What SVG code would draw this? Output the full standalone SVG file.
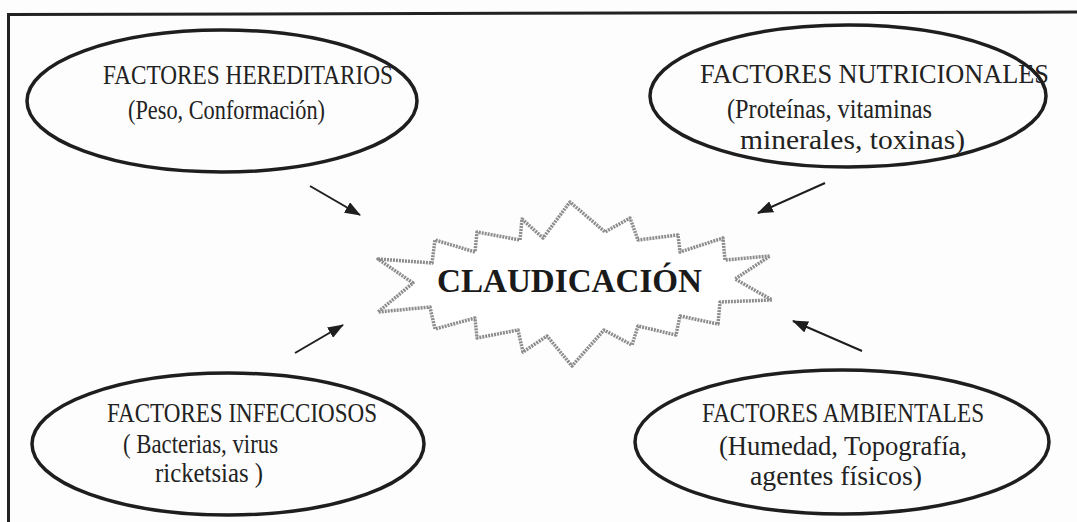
<svg xmlns="http://www.w3.org/2000/svg" width="1077" height="522" viewBox="0 0 1077 522">
<defs>
<style>
.ell{fill:none;stroke:#1e1e1e;stroke-width:3.5}
.t{font-family:"Liberation Serif","Times New Roman",serif;font-size:28px;fill:#222}
.tb{font-family:"Liberation Serif","Times New Roman",serif;font-size:33px;font-weight:bold;fill:#1a1a1a}
.conn{stroke:#1e1e1e;stroke-width:2;fill:none}
.star{fill:#fff;stroke:#8c8c8c;stroke-width:3.5;stroke-linejoin:round;stroke-dasharray:2 1}
</style>
<marker id="ah" viewBox="0 0 16 12" refX="15" refY="6" markerWidth="16" markerHeight="12" markerUnits="userSpaceOnUse" orient="auto">
<path d="M0,0 L16,6 L0,12 Z" fill="#1e1e1e"/>
</marker>
</defs>
<rect x="0" y="0" width="1077" height="522" fill="#fdfdfd"/>
<g id="frame" fill="none" stroke="#222" stroke-width="3">
<line x1="8" y1="14.5" x2="1077" y2="12"/>
<line x1="8.5" y1="13" x2="8.5" y2="522"/>
</g>
<g id="connectors">
<line class="conn" x1="310" y1="186" x2="360" y2="215" marker-end="url(#ah)"/>
<line class="conn" x1="825" y1="183" x2="758" y2="213" marker-end="url(#ah)"/>
<line class="conn" x1="295" y1="353" x2="343" y2="325" marker-end="url(#ah)"/>
<line class="conn" x1="862" y1="351" x2="793" y2="321" marker-end="url(#ah)"/>
</g>
<g id="claudicacion">
<polygon class="star" points="378,259 432,263 435,240 475,252 477,232 520,240 522,219 543,238 570,202 605,232 630,218 638,240 678,235 680,252 723,238 725,260 770,256 735,279 772,300 720,302 718,324 680,316 676,335 638,326 632,345 604,330 572,366 547,336 523,352 518,330 477,338 475,318 435,329 430,307 378,312 413,283"/>
<text class="tb" x="437" y="292" textLength="265" lengthAdjust="spacingAndGlyphs">CLAUDICACIÓN</text>
</g>
<g id="hereditarios">
<ellipse class="ell" cx="222" cy="101" rx="195" ry="71"/>
<text class="t" x="103" y="84" textLength="290" lengthAdjust="spacingAndGlyphs">FACTORES HEREDITARIOS</text>
<text class="t" x="128" y="119" textLength="197" lengthAdjust="spacingAndGlyphs">(Peso, Conformación)</text>
</g>
<g id="nutricionales">
<ellipse class="ell" cx="848" cy="96" rx="198" ry="71"/>
<text class="t" x="700" y="83" textLength="349" lengthAdjust="spacingAndGlyphs">FACTORES NUTRICIONALES</text>
<text class="t" x="727" y="118" textLength="205" lengthAdjust="spacingAndGlyphs">(Proteínas, vitaminas</text>
<text class="t" x="740" y="149" textLength="225" lengthAdjust="spacingAndGlyphs">minerales, toxinas)</text>
</g>
<g id="infecciosos">
<ellipse class="ell" cx="228" cy="444" rx="196" ry="71"/>
<text class="t" x="107" y="422" textLength="270" lengthAdjust="spacingAndGlyphs">FACTORES INFECCIOSOS</text>
<text class="t" x="123" y="453" textLength="155" lengthAdjust="spacingAndGlyphs">( Bacterias, virus</text>
<text class="t" x="155" y="482" textLength="108" lengthAdjust="spacingAndGlyphs">ricketsias )</text>
</g>
<g id="ambientales">
<ellipse class="ell" cx="842" cy="442" rx="207" ry="72"/>
<text class="t" x="702" y="422" textLength="282" lengthAdjust="spacingAndGlyphs">FACTORES AMBIENTALES</text>
<text class="t" x="719" y="455" textLength="248" lengthAdjust="spacingAndGlyphs">(Humedad, Topografía,</text>
<text class="t" x="750" y="485" textLength="172" lengthAdjust="spacingAndGlyphs">agentes físicos)</text>
</g>
</svg>
